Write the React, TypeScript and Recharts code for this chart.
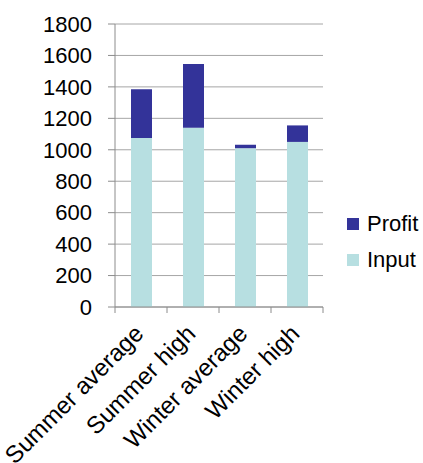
import React from 'react';
import { BarChart, Bar, XAxis, YAxis, CartesianGrid, Legend } from 'recharts';

const categories = ['Summer average', 'Summer high', 'Winter average', 'Winter high'];
const inputValues = [1075, 1140, 1010, 1050];
const profitValues = [310, 405, 22, 105];
const yTicks = [0, 200, 400, 600, 800, 1000, 1200, 1400, 1600, 1800];

const data = categories.map((name, i) => ({
  name,
  Input: inputValues[i],
  Profit: profitValues[i],
}));

const W = 423;
const H = 463;
const MARGIN = { top: 24, right: 100, bottom: 0, left: 0 };
const Y_AXIS_W = 115;
const X_AXIS_H = 156;
const BAND = (W - MARGIN.left - MARGIN.right - Y_AXIS_W) / categories.length;
const FONT = 'Liberation Sans, Arial, sans-serif';
const AXIS_COLOR = '#8c8c8c';

function CategoryTick(props: any) {
  const { x, y, payload, index } = props;
  const right = x + BAND / 2;
  const left = x - BAND / 2;
  return (
    <g>
      {index === 0 && <line x1={left} x2={left} y1={y} y2={y + 6} stroke={AXIS_COLOR} />}
      <line x1={right} x2={right} y1={y} y2={y + 6} stroke={AXIS_COLOR} />
      <g transform={`translate(${x + 4},${y + 28}) rotate(-45)`}>
        <text textAnchor="end" fontSize={24} fontFamily={FONT} fill="#000">
          {payload.value}
        </text>
      </g>
    </g>
  );
}

function LegendBox(props: any) {
  const items = [...(props.payload || [])].reverse();
  return (
    <div style={{ fontFamily: FONT, fontSize: 22, color: '#000' }}>
      {items.map((it: any) => (
        <div key={it.value} style={{ display: 'flex', alignItems: 'center', height: 36 }}>
          <span style={{ width: 12, height: 12, background: it.color, display: 'inline-block', marginRight: 8 }} />
          <span>{it.value}</span>
        </div>
      ))}
    </div>
  );
}

export default function App() {
  return (
    <div style={{ position: 'absolute', left: 0, top: 0, width: W, height: H, background: '#fff' }}>
      <BarChart width={W} height={H} data={data} margin={MARGIN} barCategoryGap="20%">
        <CartesianGrid vertical={false} stroke="#a6a6a6" />
        <XAxis
          dataKey="name"
          interval={0}
          height={X_AXIS_H}
          tickSize={0}
          tickMargin={0}
          tickLine={false}
          stroke={AXIS_COLOR}
          tick={<CategoryTick />}
        />
        <YAxis
          width={Y_AXIS_W}
          domain={[0, 1800]}
          ticks={yTicks}
          interval={0}
          tickSize={7}
          tickMargin={16}
          stroke={AXIS_COLOR}
          tick={{ fontSize: 22, fontFamily: FONT, fill: '#000' }}
        />
        <Legend
          layout="vertical"
          align="center"
          verticalAlign="middle"
          content={<LegendBox />}
          wrapperStyle={{ left: 347, top: 206, width: 80 }}
        />
        <Bar dataKey="Input" stackId="a" fill="#b7dfe1" barSize={21} isAnimationActive={false} />
        <Bar dataKey="Profit" stackId="a" fill="#333399" barSize={21} isAnimationActive={false} />
      </BarChart>
    </div>
  );
}
